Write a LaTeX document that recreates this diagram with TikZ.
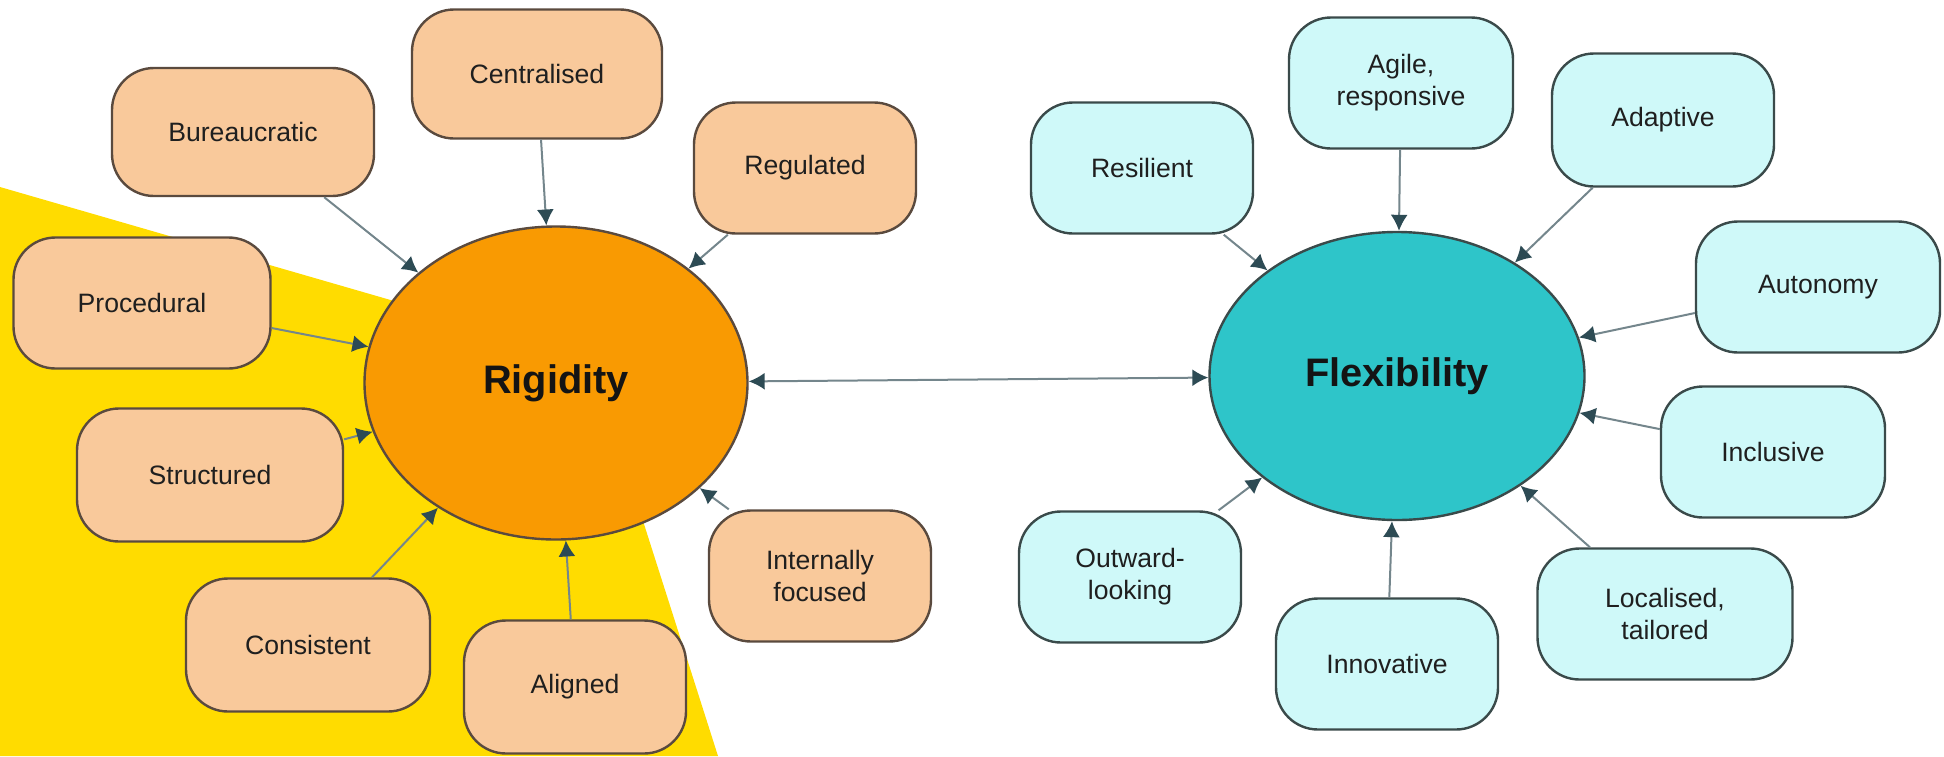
\documentclass[tikz,border=0pt]{standalone}
\usepackage{fontspec}
\setmainfont{Liberation Sans}
\usetikzlibrary{shapes.geometric,arrows.meta}
\definecolor{sun}{HTML}{FFDC00}
\definecolor{peach}{HTML}{F9C99B}
\definecolor{rigid}{HTML}{F99A02}
\definecolor{ice}{HTML}{CFF9F9}
\definecolor{flex}{HTML}{2EC5C9}
\definecolor{oline}{HTML}{5A4A3E}
\definecolor{cline}{HTML}{3A4A4A}
\definecolor{linec}{HTML}{74868C}
\definecolor{tipc}{HTML}{2D4B54}
\tikzset{obox/.style = {draw=oline, fill=peach, rounded corners=21pt, line width=1.2pt,
                        minimum width=111pt, minimum height=65.5pt, inner sep=2pt, align=center,
                        text=black!88, font=\fontsize{13.3}{16}\selectfont}}
\tikzset{cbox/.style = {obox, draw=cline, fill=ice}}
\tikzset{hub/.style = {ellipse, line width=1.2pt, inner sep=0pt, text=black!92,
                       font=\bfseries\fontsize{19.9}{24}\selectfont}}
\tikzset{link/.style = {draw=linec, line width=1pt, -{Latex[length=8pt,width=8.5pt,color=tipc]}}}

\begin{document}
\begin{tikzpicture}[x=0.5pt, y=-0.5pt]
      \useasboundingbox (0, 0) rectangle (1944, 756);
      \fill [sun] (0, 187) -- (591, 358) -- (718, 756) -- (0, 756) -- cycle;
      % the two hubs
      \node [hub, draw=oline, fill=rigid, minimum width=191.5pt, minimum height=156.5pt] (rigidity) at (556, 383) {Rigidity};
      \node [hub, draw=cline, fill=flex, minimum width=187.5pt, minimum height=144pt] (flexibility) at (1397, 376) {Flexibility};
      \draw [link, {Latex[length=8pt,width=8.5pt,color=tipc]}-{Latex[length=8pt,width=8.5pt,color=tipc]}] (rigidity) -- (flexibility);
      % rigidity side
      \node [obox, minimum width=131pt, minimum height=64pt] (bureaucratic) at (243, 132) {Bureaucratic};
      \node [obox, minimum width=125pt, minimum height=64.5pt] (centralised) at (537, 74) {Centralised};
      \node [obox] (regulated) at (805, 168) {Regulated};
      \node [obox, minimum width=128.5pt] (procedural) at (142, 303) {Procedural};
      \node [obox, minimum width=133pt, minimum height=66.5pt] (structured) at (210, 475) {Structured};
      \node [obox, minimum width=122pt, minimum height=66.5pt] (consistent) at (308, 645) {Consistent};
      \node [obox, minimum height=66.5pt] (aligned) at (575, 687) {Aligned};
      \node [obox] (internally) at (820, 576) {Internally\\focused};
      \draw [link] (bureaucratic) -- (rigidity);
      \draw [link] (centralised) -- (rigidity);
      \draw [link] (regulated) -- (rigidity);
      \draw [link] (procedural) -- (rigidity);
      \draw [link] (structured) -- (rigidity);
      \draw [link] (consistent) -- (rigidity);
      \draw [link] (aligned) -- (rigidity);
      \draw [link] (internally) -- (rigidity);
      % flexibility side
      \node [cbox] (resilient) at (1142, 168) {Resilient};
      \node [cbox, minimum width=112pt] (agile) at (1401, 83) {Agile,\\responsive};
      \node [cbox, minimum height=66.5pt] (adaptive) at (1663, 120) {Adaptive};
      \node [cbox, minimum width=122pt] (autonomy) at (1818, 287) {Autonomy};
      \node [cbox, minimum width=112pt] (inclusive) at (1773, 452) {Inclusive};
      \node [cbox, minimum width=127.5pt] (localised) at (1665, 614) {Localised,\\tailored};
      \node [cbox] (innovative) at (1387, 664) {Innovative};
      \node [cbox] (outward) at (1130, 577) {Outward-\\looking};
      \draw [link] (resilient) -- (flexibility);
      \draw [link] (agile) -- (flexibility);
      \draw [link] (adaptive) -- (flexibility);
      \draw [link] (autonomy) -- (flexibility);
      \draw [link] (inclusive) -- (flexibility);
      \draw [link] (localised) -- (flexibility);
      \draw [link] (innovative) -- (flexibility);
      \draw [link] (outward) -- (flexibility);
    \end{tikzpicture}
\end{document}
